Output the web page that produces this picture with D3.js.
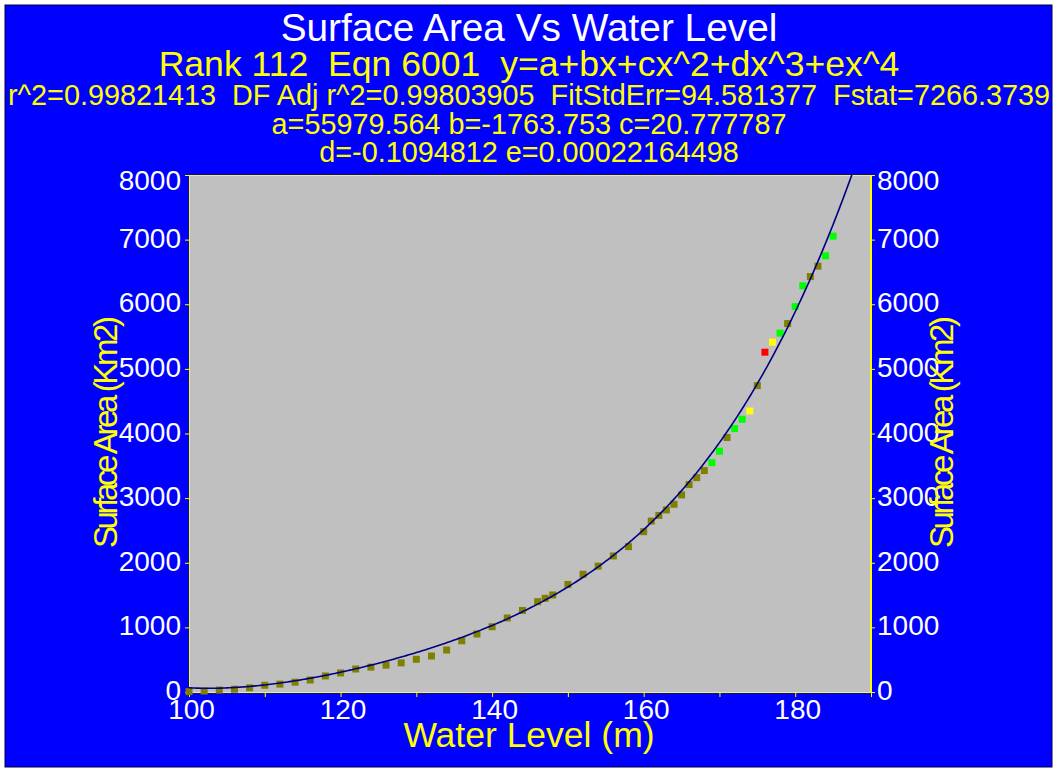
<!DOCTYPE html>
<html>
<head>
<meta charset="utf-8">
<script src="https://cdn.jsdelivr.net/npm/d3@7"></script>
<style>
  html, body { margin: 0; padding: 0; background: #ffffff; }
  svg { display: block; }
  text { font-family: "Liberation Sans", Arial, sans-serif; }
</style>
</head>
<body>
<svg id="chart" width="1057" height="771"></svg>
<script>
// Measured water level (m) and lake surface area (Km2)
const waterLevel = [
  100, 102, 104, 106, 108, 110, 112, 114, 116, 118,
  120, 122, 124, 126, 128, 130, 132, 134, 136, 138,
  140, 142, 144, 146, 147, 148, 150, 152, 154, 156,
  158, 160, 161, 162, 163, 164, 165, 166, 167, 168,
  169, 170, 171, 172, 173, 174, 175, 176, 177, 178,
  179, 180, 181, 182, 183, 184, 185
];
const surfaceArea = [
  5, 15, 30, 43, 65, 104, 122, 152, 186, 248,
  295, 356, 385, 415, 451, 506, 557, 650, 792, 898,
  1010, 1146, 1262, 1398, 1450, 1502, 1664, 1822, 1948, 2105,
  2249, 2481, 2645, 2732, 2817, 2905, 3050, 3210, 3317, 3426,
  3549, 3726, 3937, 4076, 4220, 4348, 4741, 5258, 5413, 5553,
  5701, 5964, 6285, 6429, 6589, 6749, 7054
];
// Point class: 0 = standard, 1 = green flag, 2 = yellow flag, 3 = red flag
const pointClass = [
  0, 0, 0, 0, 0, 0, 0, 0, 0, 0,
  0, 0, 0, 0, 0, 0, 0, 0, 0, 0,
  0, 0, 0, 0, 0, 0, 0, 0, 0, 0,
  0, 0, 0, 0, 0, 0, 0, 0, 0, 0,
  1, 1, 0, 1, 1, 2, 0, 3, 2, 1,
  0, 1, 1, 0, 0, 1, 1
];
const classColors = ["#808000", "#00ff00", "#ffff00", "#ff0000"];

// Fitted polynomial y = a + bx + cx^2 + dx^3 + ex^4
const fitCoefficients = [55979.564, -1763.753, 20.777787, -0.1094812, 0.00022164498];

const xDomain = [100, 190];
const yDomain = [0, 8000];
const xTicks = [100, 110, 120, 130, 140, 150, 160, 170, 180, 190];
const xTickLabels = [100, 120, 140, 160, 180];
const yTicks = [0, 1000, 2000, 3000, 4000, 5000, 6000, 7000, 8000];

const headerLines = [
  "Surface Area Vs Water Level",
  "Rank 112  Eqn 6001  y=a+bx+cx^2+dx^3+ex^4",
  "r^2=0.99821413  DF Adj r^2=0.99803905  FitStdErr=94.581377  Fstat=7266.3739",
  "a=55979.564 b=-1763.753 c=20.777787",
  "d=-0.1094812 e=0.00022164498"
];
const xTitle = "Water Level (m)";
const yTitle = "Surface Area (Km2)";

const W = 1057, H = 771;
const plot = { left: 189, right: 871, top: 175, bottom: 692 };
const cx = 529;

const svg = d3.select("#chart");

// backdrop
svg.append("rect")
  .attr("x", 5).attr("y", 5).attr("width", W - 10).attr("height", H - 9)
  .attr("fill", "#0000ff").attr("stroke", "#000040").attr("stroke-width", 1);

// header block
const headerStyle = [
  { size: 38.8, y: 41, fill: "#ffffff" },
  { size: 35.6, y: 76, fill: "#ffff00" },
  { size: 28.8, y: 105, fill: "#ffff00" },
  { size: 28.8, y: 134, fill: "#ffff00" },
  { size: 28.8, y: 162, fill: "#ffff00" }
];
svg.append("g").selectAll("text")
  .data(headerLines)
  .join("text")
  .attr("x", cx)
  .attr("y", (d, i) => headerStyle[i].y)
  .attr("text-anchor", "middle")
  .style("white-space", "pre")
  .attr("font-size", (d, i) => headerStyle[i].size)
  .attr("fill", (d, i) => headerStyle[i].fill)
  .text(d => d);

const x = d3.scaleLinear().domain(xDomain).range([plot.left, plot.right]);
const y = d3.scaleLinear().domain(yDomain).range([plot.bottom, plot.top]);

// plot area
svg.append("rect")
  .attr("x", plot.left).attr("y", plot.top)
  .attr("width", plot.right - plot.left).attr("height", plot.bottom - plot.top)
  .attr("fill", "#c0c0c0");

svg.append("clipPath").attr("id", "plotClip")
  .append("rect")
  .attr("x", plot.left).attr("y", plot.top)
  .attr("width", plot.right - plot.left).attr("height", plot.bottom - plot.top);

// axes
const axisColor = "#ffff00";
function styleAxis(g) {
  g.selectAll(".domain").attr("stroke", axisColor);
  g.selectAll(".tick line").attr("stroke", axisColor);
  g.selectAll(".tick text")
    .attr("fill", "#ffffff")
    .attr("font-size", 28)
    .attr("font-family", "Liberation Sans, Arial, sans-serif");
}

const xAxis = svg.append("g")
  .attr("transform", `translate(0,${plot.bottom})`)
  .call(d3.axisBottom(x).tickValues(xTicks).tickSize(5).tickSizeOuter(0)
    .tickFormat(d => xTickLabels.includes(d) ? d : ""));
styleAxis(xAxis);
xAxis.selectAll(".tick text").attr("y", 7).attr("dy", "0.71em").attr("dx", 2);

const yLabelShift = t => {
  const py = y(t) - 2.5;
  return Math.max(py, plot.top + 4.5) - y(t);
};

const yAxisL = svg.append("g")
  .attr("transform", `translate(${plot.left},0)`)
  .call(d3.axisLeft(y).tickValues(yTicks).tickSize(4).tickSizeOuter(0).tickFormat(d3.format("d")));
styleAxis(yAxisL);
yAxisL.selectAll(".tick text").attr("x", -8).attr("dy", t => (yLabelShift(t) + 10) + "px");

const yAxisR = svg.append("g")
  .attr("transform", `translate(${plot.right},0)`)
  .call(d3.axisRight(y).tickValues(yTicks).tickSize(4).tickSizeOuter(0).tickFormat(d3.format("d")));
styleAxis(yAxisR);
yAxisR.selectAll(".tick text").attr("x", 6).attr("dy", t => (yLabelShift(t) + 10) + "px");

// plot frame
svg.append("rect")
  .attr("x", plot.left + 0.5).attr("y", plot.top + 0.5)
  .attr("width", plot.right - plot.left - 1).attr("height", plot.bottom - plot.top)
  .attr("fill", "none").attr("stroke", axisColor).attr("stroke-width", 1);

// data points
const points = waterLevel.map((w, i) => ({ w, s: surfaceArea[i], c: pointClass[i] }));
const mk = 7;
svg.append("g")
  .selectAll("rect")
  .data(points)
  .join("rect")
  .attr("x", d => x(d.w) - mk / 2)
  .attr("y", d => y(d.s) - mk / 2)
  .attr("width", mk).attr("height", mk)
  .attr("fill", d => classColors[d.c]);

// fitted curve
const poly = v => fitCoefficients.reduce((acc, k, p) => acc + k * Math.pow(v, p), 0);
const curveX = d3.range(xDomain[0], xDomain[1] + 0.001, 0.25);
const line = d3.line().x(d => x(d)).y(d => y(poly(d)));
svg.append("path")
  .attr("clip-path", "url(#plotClip)")
  .attr("d", line(curveX))
  .attr("fill", "none")
  .attr("stroke", "#000080")
  .attr("stroke-width", 1.6);

// axis titles
svg.append("text")
  .attr("x", cx).attr("y", 747)
  .attr("text-anchor", "middle")
  .attr("font-size", 35.5)
  .attr("fill", "#ffff00")
  .text(xTitle);

[[117, 432], [953, 432]].forEach(([tx, ty]) => {
  svg.append("text")
    .attr("transform", `translate(${tx},${ty}) rotate(-90)`)
    .attr("text-anchor", "middle")
    .attr("font-size", 33)
    .attr("textLength", 232)
    .attr("lengthAdjust", "spacing")
    .attr("fill", "#ffff00")
    .text(yTitle);
});
</script>
</body>
</html>
